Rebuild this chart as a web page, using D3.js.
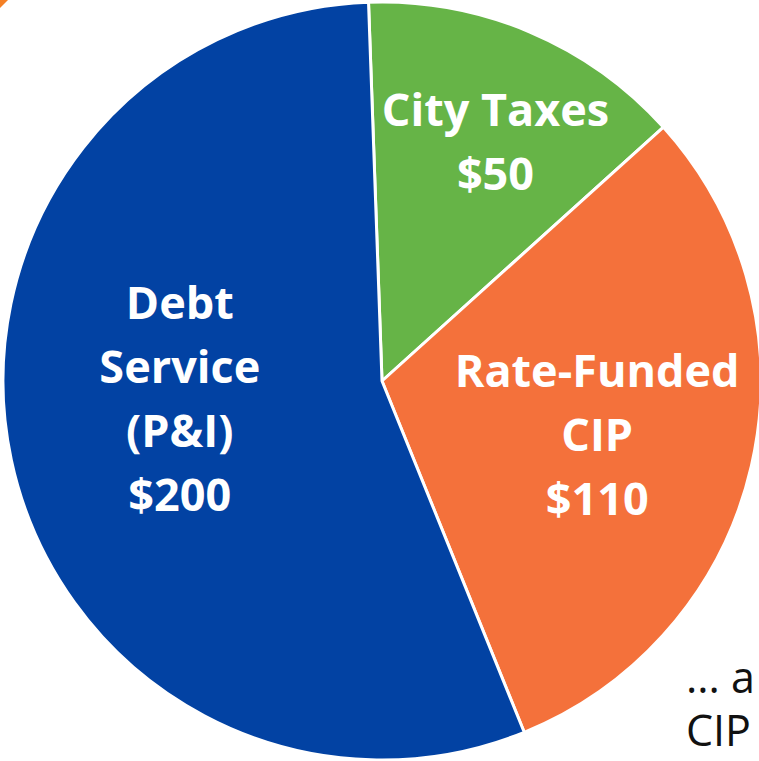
<!DOCTYPE html>
<html>
<head>
	<script src="https://cdn.jsdelivr.net/npm/d3@7"></script>
	<style>
		body { margin: 0; background: #fff; }
	</style>
</head>
<body>
	<script type="text/javascript">

		// slice data, clockwise from the top
		var names = ["City Taxes", "Rate-Funded CIP", "Debt Service (P&I)"];
		var values = [50, 110, 200];
		var labelLines = [["City Taxes", "$50"], ["Rate-Funded", "CIP", "$110"], ["Debt", "Service", "(P&I)", "$200"]];
		var colors = ["#66b447", "#f4713b", "#0242a3"];
		var sideText = ["... a", "CIP"];

		var w = 759;
		var h = 761;
		var cx = 382, cy = 381, r = 379;
		var startDeg = -2.04;

		var svg = d3.select("body")
			.append("svg")
			.attr("width", w)
			.attr("height", h);

		// bit of an arrow peeking in at the corner
		svg.append("path")
			.attr("d", "M0,0 L8,0 L0,8 Z")
			.attr("fill", "#f58025");

		var pie = d3.pie()
			.sort(null)
			.value(function(d) { return d; })
			.startAngle(startDeg * Math.PI / 180)
			.endAngle(startDeg * Math.PI / 180 + 2 * Math.PI);

		var arcs = pie(values);

		var arc = d3.arc().innerRadius(0).outerRadius(r);

		var g = svg.append("g")
			.attr("transform", "translate(" + cx + "," + cy + ")");

		g.selectAll("path.slice")
			.data(arcs)
			.enter()
			.append("path")
			.attr("class", "slice")
			.attr("d", arc)
			.attr("fill", function(d, i) { return colors[i]; })
			.attr("stroke", "#fff")
			.attr("stroke-width", 3)
			.attr("stroke-linejoin", "round");

		//label placement: radius and small angle shift off the slice middle
		var labelR = [264, 222, 203];
		var labelShift = [2.5, 1.3, 7]; // degrees
		var lineH = 64;
		var fontSize = 45;

		g.selectAll("text.lbl")
			.data(arcs)
			.enter()
			.append("text")
			.attr("class", "lbl")
			.attr("text-anchor", "middle")
			.attr("fill", "#fff")
			.style("font-family", "'Open Sans', 'Noto Sans', sans-serif")
			.style("font-weight", 700)
			.style("font-size", fontSize + "px")
			.each(function(d, i) {
				var a = (d.startAngle + d.endAngle) / 2 + labelShift[i] * Math.PI / 180;
				var x = labelR[i] * Math.sin(a);
				var y = -labelR[i] * Math.cos(a);
				var lines = labelLines[i];
				var first = y - (lines.length - 1) * lineH / 2 + fontSize * 0.35;
				d3.select(this).selectAll("tspan")
					.data(lines)
					.enter()
					.append("tspan")
					.attr("x", x)
					.attr("y", function(t, j) { return first + j * lineH; })
					.text(function(t) { return t; });
			});

		svg.append("text")
			.attr("fill", "#111")
			.style("font-family", "'Open Sans', 'Noto Sans', sans-serif")
			.style("font-size", "43px")
			.selectAll("tspan")
			.data(sideText)
			.enter()
			.append("tspan")
			.attr("x", 686)
			.attr("y", function(t, i) { return 693 + i * 53; })
			.text(function(t) { return t; });

	</script>
</body>
</html>
